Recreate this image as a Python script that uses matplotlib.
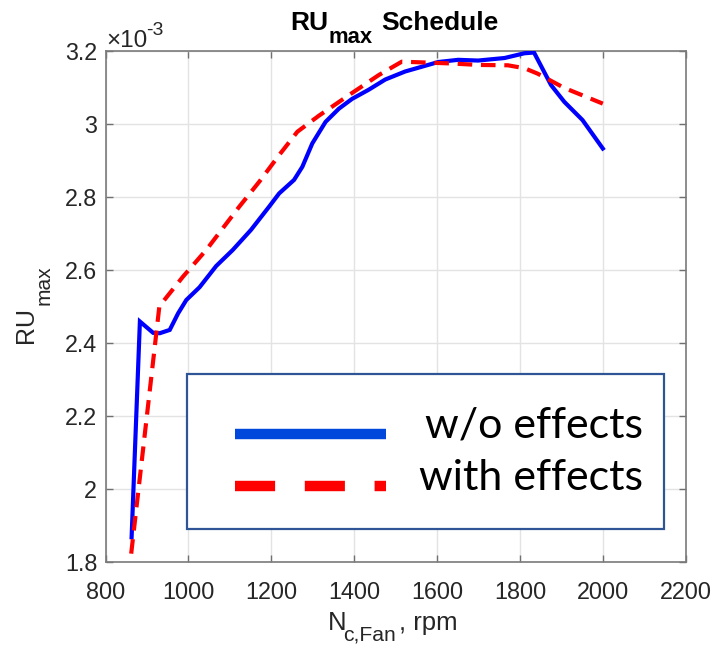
import matplotlib
matplotlib.use("Agg")
import matplotlib.pyplot as plt
from matplotlib.lines import Line2D
from matplotlib.patches import Rectangle

# ---- data (RU_max in units of 1e-3) ----
rpm_wo = [863, 883, 915, 931, 955, 975, 995, 1027, 1067, 1107, 1151, 1195, 1219,
          1255, 1275, 1299, 1331, 1363, 1395, 1435, 1475, 1523, 1603, 1651, 1699,
          1763, 1811, 1834, 1875, 1907, 1951, 2000]
ru_wo = [1.867, 2.458, 2.427, 2.426, 2.435, 2.480, 2.517, 2.552, 2.610, 2.654, 2.709,
         2.773, 2.809, 2.846, 2.882, 2.946, 3.005, 3.041, 3.068, 3.093, 3.121, 3.143,
         3.169, 3.175, 3.173, 3.180, 3.193, 3.195, 3.106, 3.060, 3.010, 2.932]

rpm_with = [862, 930, 987, 1043, 1123, 1171, 1219, 1263, 1315, 1387, 1459, 1515,
            1563, 1635, 1699, 1771, 1811, 1843, 1907, 2000]
ru_with = [1.822, 2.500, 2.581, 2.654, 2.773, 2.841, 2.914, 2.978, 3.022, 3.078,
           3.133, 3.170, 3.168, 3.165, 3.161, 3.160, 3.152, 3.137, 3.098, 3.055]

xticks = [800, 1000, 1200, 1400, 1600, 1800, 2000, 2200]
yticks = [1.8, 2.0, 2.2, 2.4, 2.6, 2.8, 3.0, 3.2]
ytick_labels = ["1.8", "2", "2.2", "2.4", "2.6", "2.8", "3", "3.2"]
labels = ["w/o effects", "with effects"]

plt.rcParams['font.family'] = ['Liberation Sans', 'DejaVu Sans']

W, H = 717, 646
fig = plt.figure(figsize=(W / 100, H / 100), dpi=100)


def fx(px):
    return px / W


def fy(py):
    return 1 - py / H


L, R, T, B = 105.5, 685.7, 50.7, 561.7
ax = fig.add_axes([fx(L), fy(B), (R - L) / W, (B - T) / H])

ax.plot(rpm_wo, ru_wo, color='#0000FF', lw=3.0, solid_joinstyle='miter', zorder=3)
ax.plot(rpm_with, ru_with, color='#FF0000', lw=3.0, dashes=(3.5, 2.1), zorder=3)

ax.set_xlim(800, 2200)
ax.set_ylim(1.8, 3.2)
ax.set_xticks(xticks)
ax.set_yticks(yticks)
ax.set_yticklabels(ytick_labels)
ax.grid(True, color='#e3e3e3', lw=1.0, zorder=0)
ax.set_axisbelow(True)
ax.tick_params(direction='in', length=5, width=1.0, colors='#707070',
               labelcolor='#262626', labelsize=16.8, top=True, right=True)
ax.tick_params(axis='x', pad=14)
ax.tick_params(axis='y', pad=6)
for s in ax.spines.values():
    s.set_color('#7a7a7a')
    s.set_linewidth(1.2)

# ---- title / axis labels built from pieces (MATLAB-style large subscripts) ----
txt = dict(color='#262626', ha='left', va='baseline', rotation_mode='anchor')
blk = dict(txt, color='black')
fig.text(fx(290), fy(30), "RU", fontsize=19, fontweight='bold', **blk)
fig.text(fx(329), fy(43), "max", fontsize=15.8, fontweight='bold', **blk)
fig.text(fx(381.7), fy(30), "Schedule", fontsize=19, fontweight='bold', **blk)

fig.text(fx(328), fy(630), "N", fontsize=18.5, **txt)
fig.text(fx(343.5), fy(640.5), "c,Fan", fontsize=15.2, **txt)
fig.text(fx(399), fy(630), ", rpm", fontsize=18.5, **txt)

fig.text(fx(33.3), fy(343.3), "RU", fontsize=18, rotation=90, **txt)
fig.text(fx(50), fy(305), "max", fontsize=15, rotation=90, **txt)

# exponent marker
fig.text(fx(106), fy(47), "\u00d710", fontsize=17.5, **txt)
fig.text(fx(146.5), fy(35), "-3", fontsize=14, **txt)

# ---- overlaid legend box (figure pixel coordinates) ----
bx0, bx1, by0, by1 = 186.7, 664, 374, 529
fig.add_artist(Rectangle((fx(bx0), fy(by1)), fx(bx1) - fx(bx0), fy(by0) - fy(by1),
                         transform=fig.transFigure, facecolor='white',
                         edgecolor='#2F5597', lw=1.6, zorder=5))
fig.add_artist(Line2D([fx(235), fx(386)], [fy(434), fy(434)], transform=fig.transFigure,
                      color='#0047DB', lw=7.5, solid_capstyle='butt', zorder=6))
fig.add_artist(Line2D([fx(235), fx(386)], [fy(486), fy(486)], transform=fig.transFigure,
                      color='#FF0000', lw=7.5, dashes=(3.85, 2.85),
                      dash_capstyle='butt', zorder=6))
fig.text(fx(643), fy(425), labels[0], fontsize=31, family=['Lato', 'DejaVu Sans'],
         ha='right', va='center', color='black', zorder=7)
fig.text(fx(643), fy(478), labels[1], fontsize=31, family=['Lato', 'DejaVu Sans'],
         ha='right', va='center', color='black', zorder=7)

fig.savefig("out.png", dpi=100)
